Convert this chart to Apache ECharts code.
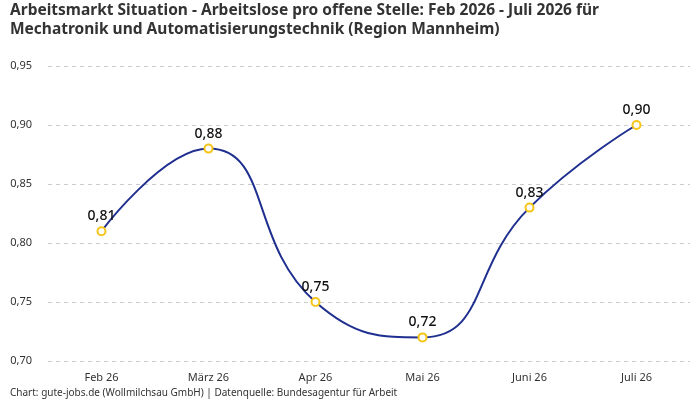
<!DOCTYPE html>
<html><head><meta charset="utf-8">
<script src="https://cdn.jsdelivr.net/npm/echarts@6/dist/echarts.min.js"></script>
<style>html,body{margin:0;padding:0;background:#fff}#c{width:700px;height:400px}</style>
</head><body><div id="c"></div>
<script>
const categories = ['Feb 26','März 26','Apr 26','Mai 26','Juni 26','Juli 26'];
const values = [0.81, 0.88, 0.75, 0.72, 0.83, 0.90];
const yTicks = [0.70, 0.75, 0.80, 0.85, 0.90, 0.95];
const fmt = v => v.toFixed(2).replace('.', ',');
const chart = echarts.init(document.getElementById('c'));
chart.setOption({
  backgroundColor: '#fff',
  title: {
    text: 'Arbeitsmarkt Situation - Arbeitslose pro offene Stelle: Feb 2026 - Juli 2026 für\nMechatronik und Automatisierungstechnik (Region Mannheim)',
    left: 10, top: 0, padding: [1, 0, 0, 0],
    textStyle: { fontFamily: 'Noto Sans', fontSize: 15.5, fontWeight: 'bold', color: '#333', lineHeight: 19 }
  },
  graphic: [{
    type: 'text', left: 10, top: 388,
    style: { text: 'Chart: gute-jobs.de (Wollmilchsau GmbH) | Datenquelle: Bundesagentur für Arbeit', font: '10px "Noto Sans"', fill: '#333' }
  }],
  grid: { left: 48, right: 10, top: 66, bottom: 39, outerBoundsMode: 'none' },
  xAxis: {
    type: 'category', data: categories, boundaryGap: true,
    axisLine: { show: false }, axisTick: { show: false },
    axisLabel: { color: '#333', fontFamily: 'Noto Sans', fontSize: 11, margin: 11 }
  },
  yAxis: {
    type: 'value', min: yTicks[0], max: yTicks[yTicks.length-1], interval: 0.05,
    axisLine: { show: false }, axisTick: { show: false },
    axisLabel: { color: '#333', fontFamily: 'Noto Sans', fontSize: 11, formatter: v => fmt(v), margin: 16 },
    splitLine: { lineStyle: { type: [4, 4], color: '#ccc' } }
  },
  series: [{
    type: 'line', data: values, smooth: true,
    symbol: 'circle', symbolSize: 8,
    lineStyle: { color: '#1f2f8f', width: 2 },
    itemStyle: { color: '#fff', borderColor: '#f5c518', borderWidth: 2 },
    label: { show: true, position: 'top', distance: 3, formatter: p => fmt(p.value), color: '#111', fontFamily: 'Noto Sans', fontSize: 14, fontWeight: 500 }
  }]
});
</script></body></html>
